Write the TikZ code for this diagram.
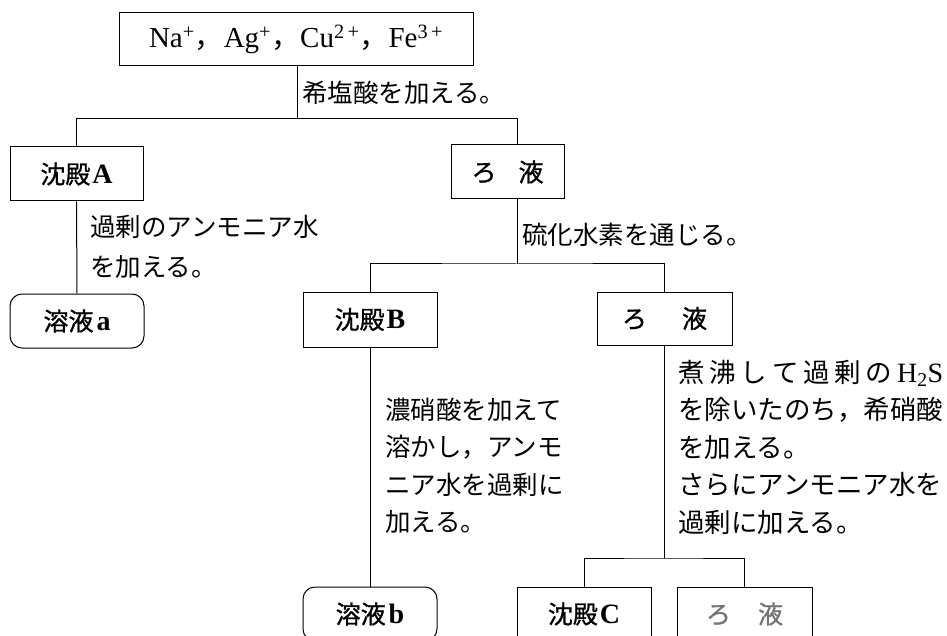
\documentclass[tikz,border=0pt]{standalone}
\usepackage{fontspec}
\setmainfont{Liberation Serif}
\newfontfamily\cjk{Noto Sans CJK JP}
\newfontfamily\cjkb[FakeBold=1.0]{Noto Sans CJK JP}
\newcommand{\labfont}{\fontsize{25}{27}\selectfont\cjkb}
\newcommand{\latb}[1]{{\fontsize{28}{28}\selectfont\rmfamily\bfseries #1}}
\newcommand{\notefont}{\fontsize{25.5}{37.5}\selectfont\cjk}
\newcommand{\notefontc}{\fontsize{26.5}{37.5}\selectfont\cjk}
\begin{document}
\begin{tikzpicture}[x=1pt,y=-1pt,
  box/.style={draw, line width=1pt, inner sep=0pt, minimum height=54pt, font=\labfont},
  rbox/.style={box, rounded corners=12pt},
  note/.style={anchor=west, inner sep=0pt, align=left},
  conn/.style={line width=1pt}]
\useasboundingbox (0,0) rectangle (947,636);
\clip (0,0) rectangle (947,636);

% nodes
\node[box, minimum width=354pt, minimum height=53pt, font=\fontsize{29}{30}\selectfont] (top) at (296,39.5)
  {Na\textsuperscript{+}{\cjk ，}Ag\textsuperscript{+}{\cjk ，}Cu\textsuperscript{2\,+}{\cjk ，}Fe\textsuperscript{3\,+}};
\node[box, minimum width=133pt] (sA) at (76.5,174) {沈殿\kern2pt\latb{A}};
\node[box, minimum width=113pt] (f1) at (507.5,172) {ろ\hspace{22pt}液};
\node[rbox, minimum width=134pt] (la) at (77,321) {溶液\kern3pt\latb{a}};
\node[box, minimum width=134pt, minimum height=55pt] (sB) at (370,319.5) {沈殿\kern2pt\latb{B}};
\node[box, minimum width=135pt, minimum height=53pt] (f2) at (664.5,318.5) {ろ\hspace{35pt}液};
\node[rbox, minimum width=134pt] (lb) at (370,614) {溶液\kern3pt\latb{b}};
\node[box, minimum width=134pt] (sC) at (584,614) {沈殿\kern2pt\latb{C}};
\node[box, minimum width=135pt, text=black!55] (f3) at (744.5,614) {ろ\hspace{27pt}液};

% notes
\node[note, font=\notefont] (n1) at (302,93) {希塩酸を加える。};
\node[note, font=\fontsize{25.5}{40}\selectfont\cjk] (n2) at (90,247) {過剰のアンモニア水\\を加える。};
\node[note, font=\notefont] (n3) at (522,235) {硫化水素を通じる。};
\node[note, font=\notefont] (n4) at (385,466) {濃硝酸を加えて\\溶かし，アンモ\\ニア水を過剰に\\加える。};
\node[note, font=\notefontc] (n5) at (678,447)
  {\hbox to 265pt{煮\hfil 沸\hfil し\hfil て\hfil 過\hfil 剰\hfil の\hfil {\rmfamily\fontsize{28}{30}\selectfont H\textsubscript{2}S}}\\
   を除いたのち，希硝酸\\を加える。\\さらにアンモニア水を\\過剰に加える。};

% junction coordinates
\coordinate (h1) at (297,119);
\coordinate (k1) at (517,119);
\coordinate (h2) at (517,264);
\coordinate (h3) at (663,558);

% connectors
\draw[conn] (top.south -| h1) -- (h1);
\draw[conn] (sA.north) |- (k1) -- (k1 |- f1.north);
\draw[conn] (f1.south -| k1) -- (h2);
\draw[conn] (sB.north) |- (h2) -| (f2.north);
\draw[conn] (sA.south) -- (la.north);
\draw[conn] (sB.south) -- (lb.north);
\draw[conn] (f2.south) -- (f2.south |- h3);
\draw[conn] (sC.north) |- (h3) -| (f3.north);
\end{tikzpicture}
\end{document}
